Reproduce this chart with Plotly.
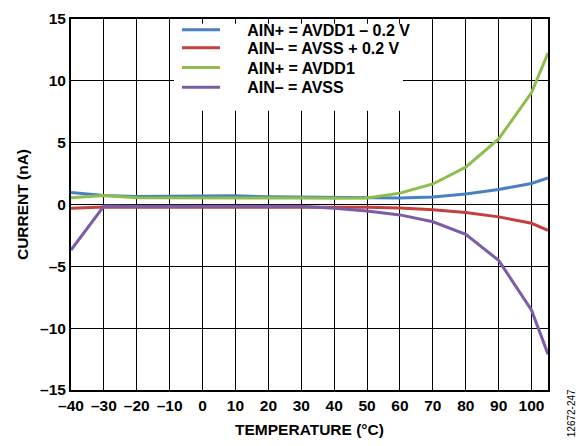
import plotly.graph_objects as go

temps = [-40, -30, -20, -10, 0, 10, 20, 30, 40, 50, 60, 70, 80, 90, 100, 105]
ain_p_avdd1_m02 = [0.97, 0.72, 0.65, 0.65, 0.66, 0.70, 0.62, 0.60, 0.55, 0.52, 0.52, 0.60, 0.85, 1.22, 1.70, 2.15]
ain_m_avss_p02 = [-0.30, -0.20, -0.22, -0.22, -0.20, -0.25, -0.22, -0.20, -0.20, -0.22, -0.28, -0.42, -0.64, -1.00, -1.52, -2.10]
ain_p_avdd1 = [0.55, 0.72, 0.55, 0.55, 0.58, 0.55, 0.55, 0.52, 0.50, 0.52, 0.92, 1.66, 3.02, 5.30, 9.05, 12.25]
ain_m_avss = [-3.68, -0.13, -0.15, -0.15, -0.15, -0.17, -0.15, -0.15, -0.30, -0.52, -0.84, -1.40, -2.42, -4.52, -8.55, -12.10]

series_names = ["AIN+ = AVDD1 – 0.2 V", "AIN– = AVSS + 0.2 V", "AIN+ = AVDD1", "AIN– = AVSS"]
series_values = [ain_p_avdd1_m02, ain_m_avss_p02, ain_p_avdd1, ain_m_avss]
series_colors = ["#4a80c2", "#c4403d", "#8fbd4d", "#7b5ca7"]

x_tick_vals = [-40, -30, -20, -10, 0, 10, 20, 30, 40, 50, 60, 70, 80, 90, 100]
x_tick_labels = ["–40", "–30", "–20", "–10", "0", "10", "20", "30", "40", "50", "60", "70", "80", "90", "100"]
y_tick_vals = [-15, -10, -5, 0, 5, 10, 15]
y_tick_labels = ["–15", "–10", "–5", "0", "5", "10", "15"]

FONT = "Arial, 'Liberation Sans', sans-serif"
legend_ids = ["legend", "legend2", "legend3", "legend4"]
legend_rows_y = [0.971, 0.922, 0.869, 0.816]

fig = go.Figure()
for name, vals, col, lid in zip(series_names, series_values, series_colors, legend_ids):
    fig.add_trace(go.Scatter(x=temps, y=vals, mode="lines", name="\u00a0" * 5 + name,
                             legend=lid, line=dict(color=col, width=3)))

legend_layout = {}
for lid, ly in zip(legend_ids, legend_rows_y):
    legend_layout[lid] = dict(x=0.2222, y=ly, xanchor="left", yanchor="middle",
                              bgcolor="rgba(0,0,0,0)", borderwidth=0,
                              font=dict(family=FONT, size=16, color="black", weight="bold"),
                              itemwidth=38)

fig.update_layout(
    width=585, height=446,
    margin=dict(l=71, r=37, t=10, b=56),
    paper_bgcolor="white", plot_bgcolor="white",
    font=dict(family=FONT, size=15.5, color="black"),
    showlegend=True,
    shapes=[dict(type="rect", xref="paper", yref="paper", x0=0.2159, x1=0.696, y0=0.7526, y1=0.987,
                 fillcolor="white", line=dict(width=0), layer="above")],
    xaxis=dict(range=[-40, 105], tickvals=x_tick_vals, ticktext=x_tick_labels,
               showgrid=True, gridcolor="black", gridwidth=1.4, zeroline=False,
               showline=True, linecolor="black", linewidth=2, mirror=True,
               ticks="", tickfont=dict(family=FONT, size=15.5, weight="bold"),
               title=dict(text="TEMPERATURE (°C)", font=dict(family=FONT, size=15.5, weight="bold"), standoff=12)),
    yaxis=dict(range=[-15, 15], tickvals=y_tick_vals, ticktext=y_tick_labels,
               showgrid=True, gridcolor="black", gridwidth=1.4, zeroline=False,
               showline=True, linecolor="black", linewidth=2, mirror=True,
               ticks="", tickfont=dict(family=FONT, size=15.5, weight="bold"),
               title=dict(text="CURRENT (nA)", font=dict(family=FONT, size=15.5, weight="bold"), standoff=8)),
    annotations=[dict(text="12672-247", xref="paper", yref="paper", x=1.050, y=-0.063,
                      xanchor="center", yanchor="middle", textangle=-90, showarrow=False,
                      font=dict(family=FONT, size=10, color="black"))],
    **legend_layout,
)

fig.write_html("out.html", post_script="document.body.style.margin='0px';",
               config={"displayModeBar": False})
